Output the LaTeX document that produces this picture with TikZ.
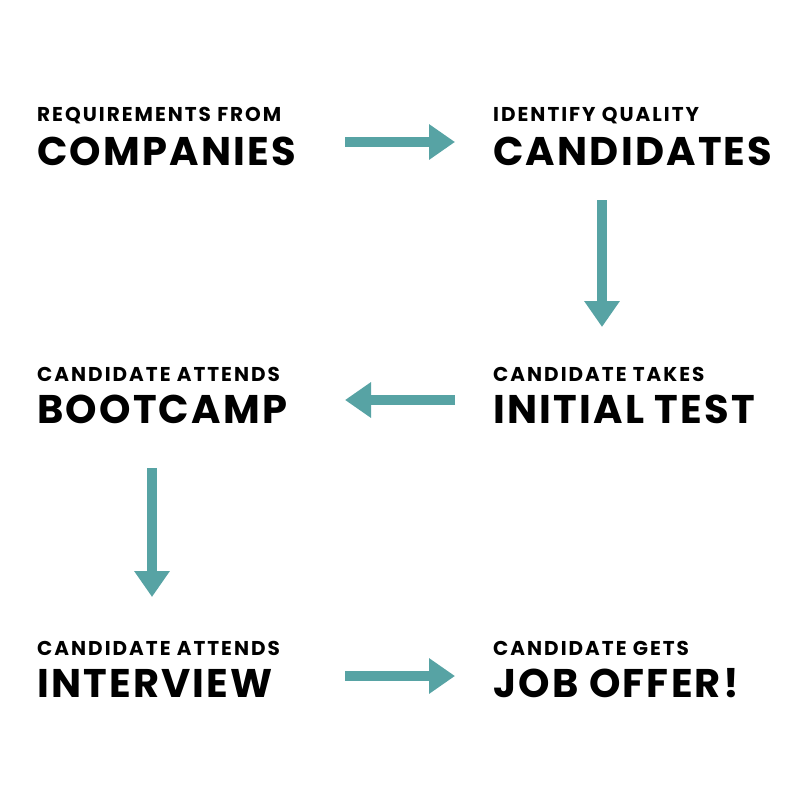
\documentclass[tikz,border=0pt]{standalone}
\usepackage{fontspec}
\usetikzlibrary{arrows.meta}
\newfontfamily\stepfont[LetterSpace=10]{Poppins}
\newfontfamily\goalfont[LetterSpace=5.5]{Poppins}
\definecolor{teal1}{RGB}{87,163,164}
\begin{document}
\begin{tikzpicture}[x=1pt, y=-1pt,
  small/.style={anchor=base west, inner sep=0pt, font=\stepfont\bfseries\fontsize{20}{20}\selectfont},
  big/.style={anchor=base west, inner sep=0pt, font=\goalfont\bfseries\fontsize{40}{40}\selectfont},
  flow/.style={draw=teal1, line width=10pt, -{Triangle[length=26pt, width=34pt]}}]
\useasboundingbox (0,0) rectangle (800,800);

\node (S1) at (37, 121) [small] {REQUIREMENTS FROM};
\node (B1) at (37, 165) [big] {COMPANIES};

\node (S2) at (493, 121) [small] {IDENTIFY QUALITY};
\node (B2) at (493, 165) [big] {CANDIDATES};

\node (S3) at (493, 381) [small] {CANDIDATE TAKES};
\node (B3) at (493, 423) [big] {INITIAL TEST};

\node (S4) at (37, 381) [small] {CANDIDATE ATTENDS};
\node (B4) at (37, 423) [big] {BOOTCAMP};

\node (S5) at (37, 655) [small] {CANDIDATE ATTENDS};
\node (B5) at (37, 697) [big] {INTERVIEW};

\node (S6) at (493, 655) [small] {CANDIDATE GETS};
\node (B6) at (493, 697) [big] {JOB OFFER!};

\coordinate (a1) at (345, 142);
\coordinate (b1) at (455, 142);
\coordinate (a2) at (602, 200);
\coordinate (b2) at (602, 327);
\coordinate (a3) at (455, 400);
\coordinate (b3) at (345, 400);
\coordinate (a4) at (152, 468);
\coordinate (b4) at (152, 597);
\coordinate (a5) at (345, 676);
\coordinate (b5) at (455, 676);

\draw[flow] (a1) to (b1);
\draw[flow] (a2) to (b2);
\draw[flow] (a3) to (b3);
\draw[flow] (a4) to (b4);
\draw[flow] (a5) to (b5);
\end{tikzpicture}
\end{document}
